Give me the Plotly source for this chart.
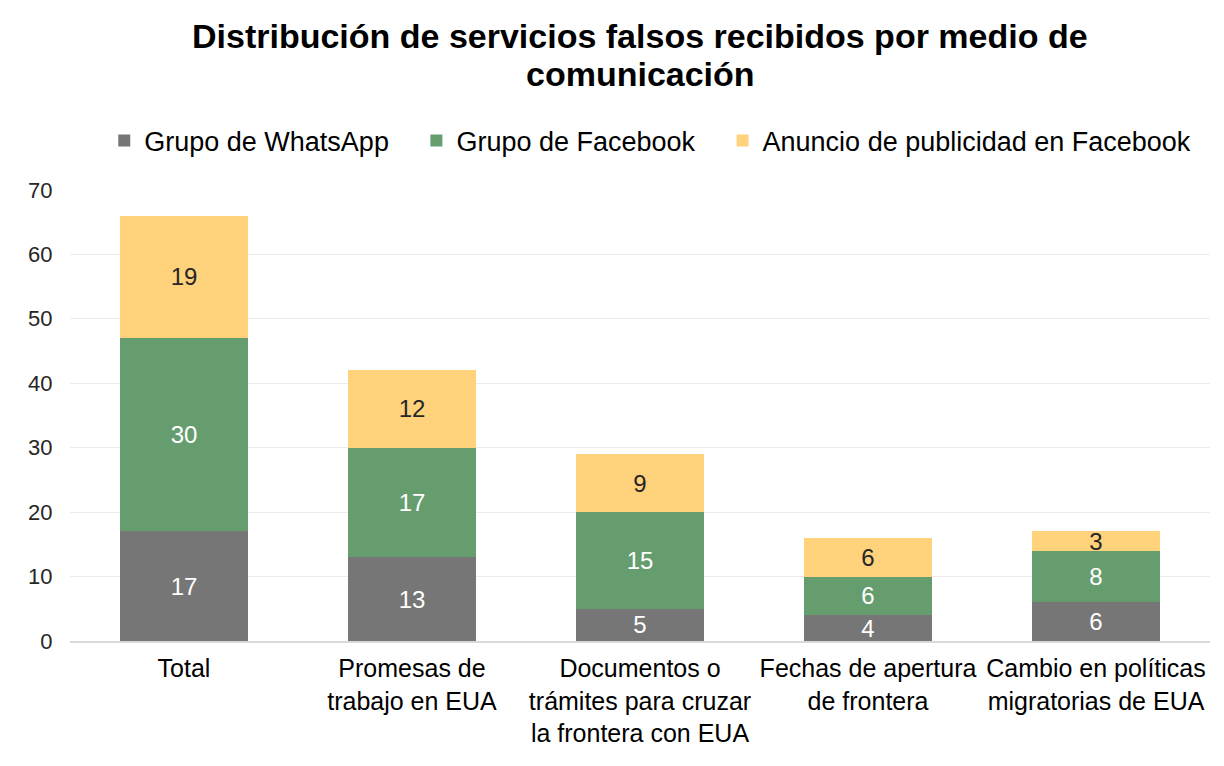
import plotly.graph_objects as go

# Categories (x axis) and counts per medium
categories = [
    "Total",
    "Promesas de<br>trabajo en EUA",
    "Documentos o<br>trámites para cruzar<br>la frontera con EUA",
    "Fechas de apertura<br>de frontera",
    "Cambio en políticas<br>migratorias de EUA",
]
whatsapp = [17, 13, 5, 4, 6]
facebook_group = [30, 17, 15, 6, 8]
facebook_ads = [19, 12, 9, 6, 3]

series_names = ["Grupo de WhatsApp", "Grupo de Facebook", "Anuncio de publicidad en Facebook"]
series_colors = ["#767676", "#669D6F", "#FFD27B"]
text_colors = ["white", "white", "#262626"]

title_lines = ["Distribución de servicios falsos recibidos por medio de", "comunicación"]

W, H = 1224, 766
M_TOP, M_BOT = 180, 133
plot_h = H - M_TOP - M_BOT

fig = go.Figure()
for i, (name, vals, color, tcolor) in enumerate(zip(series_names, [whatsapp, facebook_group, facebook_ads],
                                                    series_colors, text_colors)):
    # a little extra room after the first legend entries
    pad = "&nbsp;&nbsp;&nbsp;" if i < 2 else ""
    fig.add_trace(go.Bar(
        x=categories,
        y=vals,
        name=name + pad,
        marker=dict(color=color, line=dict(width=0)),
        text=vals,
        textposition="inside",
        insidetextanchor="middle",
        textangle=0,
        textfont=dict(color=tcolor, size=24),
    ))

# title as two annotations to keep the tight line spacing
for i, line in enumerate(title_lines):
    px_y = 26 + i * 38
    fig.add_annotation(
        text=f"<b>{line}</b>",
        xref="paper", yref="paper",
        x=0.5, y=(H - M_BOT - px_y) / plot_h,
        yanchor="middle", xanchor="center",
        showarrow=False,
        font=dict(size=34, color="#000000"),
    )

fig.update_layout(
    barmode="stack",
    bargap=0.44,
    width=W,
    height=H,
    plot_bgcolor="white",
    paper_bgcolor="white",
    font=dict(family="Liberation Sans, Arial, sans-serif", color="#000000"),
    uniformtext=dict(minsize=24, mode="show"),
    legend=dict(
        orientation="h",
        x=0.509,
        xanchor="center",
        xref="paper",
        y=(H - 133) / H,
        yref="container",
        yanchor="middle",
        font=dict(size=27, color="#000000"),
        traceorder="normal",
        itemwidth=30,
    ),
    margin=dict(l=62, r=22, t=M_TOP, b=M_BOT),
    xaxis=dict(
        tickfont=dict(size=25, color="#000000"),
        showline=True,
        linecolor="#D9D9D9",
        linewidth=2,
        ticks="",
        ticklabelstandoff=4,
    ),
    yaxis=dict(
        range=[0, 70],
        dtick=10,
        tickfont=dict(size=22, color="#262626"),
        showgrid=True,
        gridcolor="#EBEBEB",
        gridwidth=1,
        zeroline=False,
        ticks="outside",
        ticklen=12,
        tickcolor="white",
    ),
)

fig.write_html("out.html")
